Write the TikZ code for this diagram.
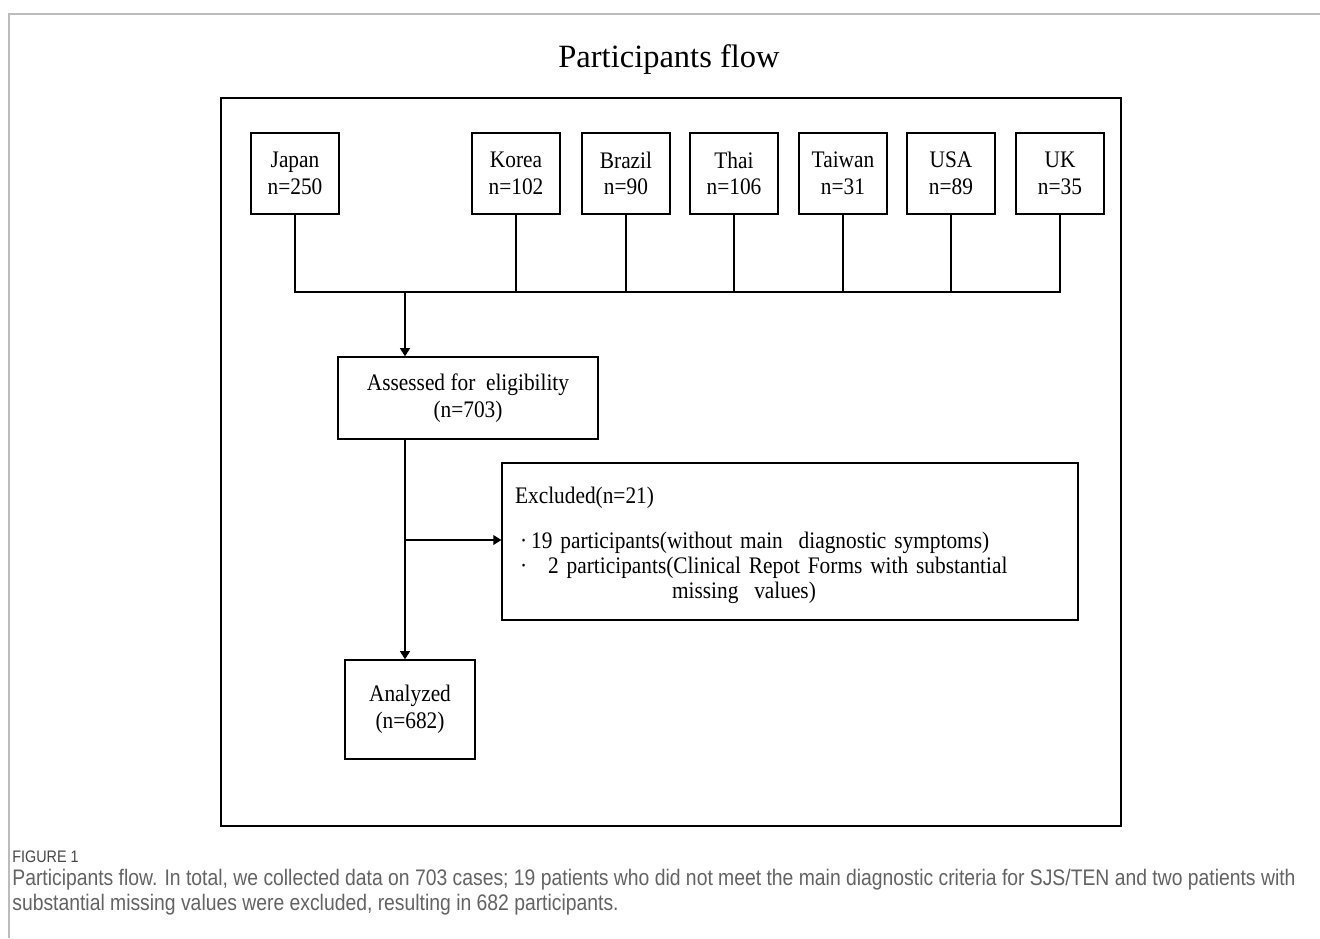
\documentclass[tikz,border=0pt]{standalone}
\usepackage{fontspec}
\setmainfont{Liberation Serif}
\newfontfamily\boxfont[FakeStretch=0.9]{Liberation Serif}
\newfontfamily\capfont[FakeStretch=0.86]{Liberation Sans}
\usepackage{tikz}
\usetikzlibrary{arrows.meta,positioning,calc}
\usepackage{xcolor}
\definecolor{capgray}{HTML}{636363}
\definecolor{pagegray}{HTML}{BBBBBB}
\tikzset{
  box/.style={draw,line width=0.8pt,align=center,inner sep=0pt,
    font=\boxfont\fontsize{13.5}{15.2}\selectfont},
  country/.style={box,minimum width=1.76cm,minimum height=1.62cm},
  frame/.style={line width=0.8pt},
  link/.style={line width=0.8pt},
  arrow/.style={link,-{Triangle[length=4.6pt,width=5.6pt]}},
  captext/.style={anchor=base west,inner sep=0pt,text=capgray,
    font=\capfont\fontsize{12.8}{14}\selectfont}
}

\begin{document}
\begin{tikzpicture}[x=0.02cm,y=-0.02cm]
  \useasboundingbox (0,0) rectangle (1320,938);
  \draw[pagegray,line width=0.6pt] (9,938) -- (9,14) -- (1320,14); % page frame

  \node[font=\fontsize{18.5}{22}\selectfont] (title) at (669,60) {Participants flow};
  \draw[frame] (221,98) rectangle (1121,826);

  % sites
  \node[country] (jp) at (295,173.5)  {Japan\\n=250};
  \node[country] (kr) at (516,173.5)  {Korea\\n=102};
  \node[country] (bz) at (626,173.5)  {Brazil\\n=90};
  \node[country] (th) at (734,173.5)  {Thai\\n=106};
  \node[country] (tw) at (843,173.5)  {Taiwan\\n=31};
  \node[country] (us) at (951,173.5)  {USA\\n=89};
  \node[country] (uk) at (1060,173.5) {UK\\n=35};

  \coordinate (bus) at (405,292);
  \draw[link] (jp.south) -- (jp.south |- bus) -- (uk.south |- bus) -- (uk.south);
  \foreach \c in {kr,bz,th,tw,us}
    \draw[link] (\c.south) -- (\c.south |- bus);

  \node[box,minimum width=5.2cm,minimum height=1.64cm] (assess) at (468,398)
    {Assessed for~ eligibility\\(n=703)};
  \node[box,minimum width=11.52cm,minimum height=3.14cm,align=left,
    text width=11cm,inner xsep=0.26cm,
    font=\boxfont\fontsize{13.5}{14.3}\selectfont] (excl) at (790,541.5)
    {\rule{0pt}{0.48cm}Excluded(n=21)\\[0.4cm]
     \hspace*{0.1cm}·\,19 participants(without main~ diagnostic symptoms)\\
     \hspace*{0.1cm}·\hspace{0.42cm}2 participants(Clinical Repot Forms with substantial\\
     \hspace*{3.14cm}missing~ values)};
  \node[box,minimum width=2.6cm,minimum height=1.98cm] (anal) at (410,709.5)
    {Analyzed\\(n=682)};

  \draw[arrow] (bus) -- (bus |- assess.north);
  \draw[arrow] (bus |- assess.south) -- (bus |- anal.north);
  \coordinate (split) at (405,540);
  \draw[arrow] (split) -- (split -| excl.west);

  % caption
  \node[captext,text=black!72,font=\capfont\fontsize{9.5}{10}\selectfont] (fig) at (12,862) {FIGURE 1};
  \node[captext] (cap1) at (12,885) {Participants flow. In total, we collected data on 703 cases; 19 patients who did not meet the main diagnostic criteria for SJS/TEN and two patients with};
  \node[captext] (cap2) at (12,910) {substantial missing values were excluded, resulting in 682 participants.};
\end{tikzpicture}
\end{document}
